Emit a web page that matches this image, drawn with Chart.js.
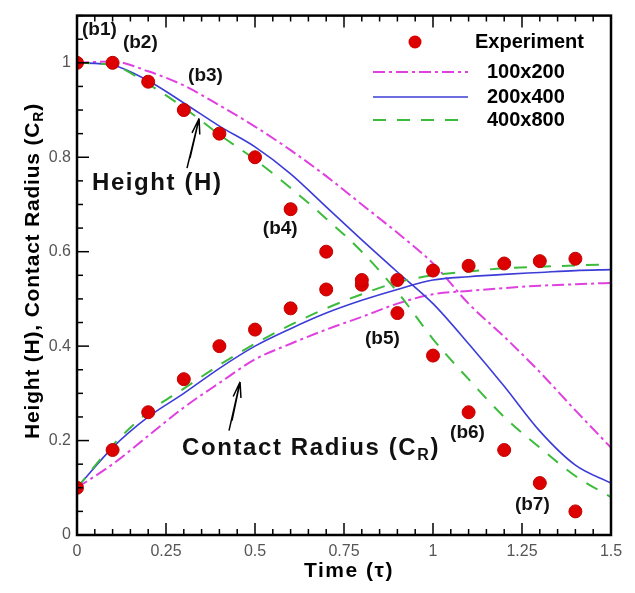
<!DOCTYPE html>
<html>
<head>
<meta charset="utf-8">
<script src="https://cdn.jsdelivr.net/npm/chart.js@4.4.1/dist/chart.umd.min.js"></script>
<style>
  html, body { margin: 0; padding: 0; background: #fff; }
  #wrap { width: 635px; height: 593px; }
</style>
</head>
<body>
<div id="wrap"><canvas id="chart" width="635" height="593"></canvas></div>
<script>
// time axis
const simTimes = [0, 0.1, 0.2, 0.3, 0.4, 0.5, 0.6, 0.7, 0.8, 0.9, 1.0, 1.1, 1.2, 1.3, 1.4, 1.5];
const expTimes = [0, 0.1, 0.2, 0.3, 0.4, 0.5, 0.6, 0.7, 0.8, 0.9, 1.0, 1.1, 1.2, 1.3, 1.4];

// experiment
const expHeight = [1.0, 1.0, 0.96, 0.90, 0.85, 0.80, 0.69, 0.60, 0.54, 0.47, 0.38, 0.26, 0.18, 0.11, 0.05];
const expRadius = [0.10, 0.18, 0.26, 0.33, 0.40, 0.435, 0.48, 0.52, 0.53, 0.54, 0.56, 0.57, 0.575, 0.58, 0.585];

// grid 100x200
const h100 = [1.0, 1.003, 0.982, 0.952, 0.91, 0.865, 0.815, 0.76, 0.70, 0.64, 0.575, 0.49, 0.42, 0.345, 0.264, 0.185];
const r100 = [0.10, 0.15, 0.21, 0.27, 0.322, 0.372, 0.405, 0.435, 0.462, 0.49, 0.51, 0.517, 0.523, 0.528, 0.531, 0.534];

// grid 200x400
const h200 = [1.0, 0.995, 0.962, 0.915, 0.866, 0.822, 0.765, 0.695, 0.625, 0.557, 0.49, 0.405, 0.315, 0.22, 0.148, 0.11];
const r200 = [0.10, 0.185, 0.25, 0.30, 0.353, 0.40, 0.437, 0.47, 0.497, 0.52, 0.54, 0.547, 0.552, 0.556, 0.56, 0.562];

// grid 400x800
const h400 = [1.0, 0.995, 0.955, 0.905, 0.848, 0.795, 0.735, 0.67, 0.60, 0.515, 0.415, 0.33, 0.25, 0.185, 0.125, 0.08];
const r400 = [0.10, 0.19, 0.26, 0.31, 0.36, 0.405, 0.445, 0.48, 0.51, 0.535, 0.55, 0.558, 0.565, 0.568, 0.571, 0.573];

const xTickLabels = ['0', '0.25', '0.5', '0.75', '1', '1.25', '1.5'];
const yTickLabels = ['0', '0.2', '0.4', '0.6', '0.8', '1'];

const RED = '#dc0000';
const MAGENTA = '#e040e0';
const BLUE = '#3c3cd8';
const GREEN = '#3cbc3c';

function pairs(xs, ys) {
  return ys.map((y, i) => ({ x: xs[i], y: y }));
}

function lineSet(label, data, color, dash, width) {
  return {
    label: label,
    data: data,
    borderColor: color,
    backgroundColor: color,
    borderWidth: width,
    borderDash: dash,
    pointRadius: 0,
    fill: false,
    cubicInterpolationMode: 'monotone'
  };
}

function pointSet(label, data) {
  return {
    label: label,
    data: data,
    showLine: false,
    pointRadius: 6.5,
    pointBackgroundColor: RED,
    pointBorderColor: '#c00000',
    pointBorderWidth: 1
  };
}

function isMajor(v, step) {
  return Math.abs(v / step - Math.round(v / step)) < 1e-6;
}

// text labels placed in data units
const notes = [
  { text: '(b1)', x: 0.014, y: 1.069, size: 19 },
  { text: '(b2)', x: 0.129, y: 1.042, size: 19 },
  { text: '(b3)', x: 0.312, y: 0.973, size: 19 },
  { text: '(b4)', x: 0.522, y: 0.648, size: 19 },
  { text: '(b5)', x: 0.809, y: 0.415, size: 19 },
  { text: '(b6)', x: 1.048, y: 0.217, size: 19 },
  { text: '(b7)', x: 1.230, y: 0.063, size: 19 }
];

const arrows = [
  { from: [0.309, 0.777], to: [0.343, 0.882] },
  { from: [0.427, 0.221], to: [0.458, 0.324] }
];

const legendItems = [
  { label: 'Experiment', kind: 'point' },
  { label: '100x200', color: MAGENTA, dash: [12, 4, 3, 4], width: 2 },
  { label: '200x400', color: BLUE, dash: [], width: 1.6 },
  { label: '400x800', color: GREEN, dash: [13, 11], width: 2 }
];

function drawRich(ctx, parts, x, y, size, spacing) {
  // parts: [text, isSub]
  let cx = x;
  parts.forEach(p => {
    const s = p[1] ? Math.round(size * 0.68) : size;
    ctx.font = 'bold ' + s + 'px "Liberation Sans", Arial, sans-serif';
    ctx.letterSpacing = spacing + 'px';
    ctx.fillText(p[0], cx, p[1] ? y + size * 0.3 : y);
    cx += ctx.measureText(p[0]).width;
  });
  return cx - x;
}

function richWidth(ctx, parts, size, spacing) {
  let w = 0;
  parts.forEach(p => {
    const s = p[1] ? Math.round(size * 0.68) : size;
    ctx.font = 'bold ' + s + 'px "Liberation Sans", Arial, sans-serif';
    ctx.letterSpacing = spacing + 'px';
    w += ctx.measureText(p[0]).width;
  });
  return w;
}

const decorations = {
  id: 'decorations',
  afterDraw(chart) {
    const ctx = chart.ctx;
    const area = chart.chartArea;
    const xs = chart.scales.x;
    const ys = chart.scales.y;
    ctx.save();

    // inward ticks
    ctx.strokeStyle = '#000';
    ctx.lineWidth = 1.5;
    xs.ticks.forEach(t => {
      const px = xs.getPixelForValue(t.value);
      const len = isMajor(t.value, 0.25) ? 12 : 6;
      ctx.beginPath();
      ctx.moveTo(px, area.bottom);
      ctx.lineTo(px, area.bottom - len);
      ctx.moveTo(px, area.top);
      ctx.lineTo(px, area.top + len);
      ctx.stroke();
    });
    ys.ticks.forEach(t => {
      const py = ys.getPixelForValue(t.value);
      const len = isMajor(t.value, 0.2) ? 12 : 6;
      ctx.beginPath();
      ctx.moveTo(area.left, py);
      ctx.lineTo(area.left + len, py);
      ctx.stroke();
    });

    // frame
    ctx.lineWidth = 2.5;
    ctx.strokeRect(area.left, area.top, area.right - area.left, area.bottom - area.top);

    // legend
    const lx0 = area.left + 296;
    const lx1 = area.left + 391;
    const rows = [42, 72, 97, 120];
    ctx.textBaseline = 'middle';
    ctx.fillStyle = '#000';
    legendItems.forEach((it, i) => {
      const y = rows[i];
      ctx.font = 'bold 20px "Liberation Sans", Arial, sans-serif';
      ctx.letterSpacing = '0px';
      if (it.kind === 'point') {
        ctx.beginPath();
        ctx.arc(area.left + 338, y, 6.5, 0, Math.PI * 2);
        ctx.fillStyle = RED;
        ctx.fill();
        ctx.fillStyle = '#000';
        ctx.fillText(it.label, area.left + 398, y);
      } else {
        ctx.beginPath();
        ctx.setLineDash(it.dash);
        ctx.strokeStyle = it.color;
        ctx.lineWidth = it.width;
        ctx.moveTo(lx0, y);
        ctx.lineTo(lx1, y);
        ctx.stroke();
        ctx.setLineDash([]);
        ctx.fillText(it.label, area.left + 410, y);
      }
    });

    // (bN) notes
    ctx.fillStyle = '#111';
    notes.forEach(n => {
      ctx.font = 'bold ' + n.size + 'px "Liberation Sans", Arial, sans-serif';
      ctx.letterSpacing = '0px';
      ctx.fillText(n.text, xs.getPixelForValue(n.x), ys.getPixelForValue(n.y));
    });

    // curve labels
    drawRich(ctx, [['Height (H)', false]], xs.getPixelForValue(0.042), ys.getPixelForValue(0.745), 24, 1.6);
    drawRich(ctx, [['Contact Radius (C', false], ['R', true], [')', false]],
      xs.getPixelForValue(0.295), ys.getPixelForValue(0.183), 24, 1.6);

    // arrows (drawn as a narrow double stroke like the original)
    ctx.strokeStyle = '#000';
    ctx.lineWidth = 1.5;
    arrows.forEach(a => {
      const x0 = xs.getPixelForValue(a.from[0]), y0 = ys.getPixelForValue(a.from[1]);
      const x1 = xs.getPixelForValue(a.to[0]), y1 = ys.getPixelForValue(a.to[1]);
      const ang = Math.atan2(y1 - y0, x1 - x0);
      ctx.beginPath();
      ctx.moveTo(x0, y0);
      ctx.lineTo(x1, y1);
      ctx.moveTo(x0 + 3, y0 - 10);
      ctx.lineTo(x1, y1);
      ctx.moveTo(x1, y1);
      ctx.lineTo(x1 - 16 * Math.cos(ang - 0.28), y1 - 16 * Math.sin(ang - 0.28));
      ctx.moveTo(x1, y1);
      ctx.lineTo(x1 - 16 * Math.cos(ang + 0.22), y1 - 16 * Math.sin(ang + 0.22));
      ctx.stroke();
    });

    // axis titles
    ctx.fillStyle = '#000';
    ctx.textBaseline = 'middle';
    ctx.font = 'bold 21px "Liberation Sans", Arial, sans-serif';
    ctx.letterSpacing = '1.5px';
    ctx.textAlign = 'center';
    ctx.fillText('Time (\u03c4)', (area.left + area.right) / 2 + 5, 571);
    ctx.textAlign = 'left';

    const yParts = [['Height (H), Contact Radius (C', false], ['R', true], [')', false]];
    const yw = richWidth(ctx, yParts, 21, 0.8);
    ctx.translate(33, 271);
    ctx.rotate(-Math.PI / 2);
    drawRich(ctx, yParts, -yw / 2, 0, 21, 0.8);
    ctx.restore();
  }
};

const ctx = document.getElementById('chart').getContext('2d');
const chart = new Chart(ctx, {
  type: 'line',
  data: {
    datasets: [
      pointSet('Experiment', pairs(expTimes, expHeight)),
      pointSet('Experiment CR', pairs(expTimes, expRadius)),
      lineSet('400x800', pairs(simTimes, h400), GREEN, [13, 11], 2),
      lineSet('400x800 CR', pairs(simTimes, r400), GREEN, [13, 11], 2),
      lineSet('200x400', pairs(simTimes, h200), BLUE, [], 1.6),
      lineSet('200x400 CR', pairs(simTimes, r200), BLUE, [], 1.6),
      lineSet('100x200', pairs(simTimes, h100), MAGENTA, [12, 4, 3, 4], 2),
      lineSet('100x200 CR', pairs(simTimes, r100), MAGENTA, [12, 4, 3, 4], 2)
    ]
  },
  options: {
    responsive: false,
    animation: false,
    layout: { padding: { top: 13, right: 24, left: 0, bottom: 0 } },
    plugins: {
      legend: { display: false },
      tooltip: { enabled: false }
    },
    scales: {
      x: {
        type: 'linear',
        min: 0,
        max: 1.5,
        grid: { display: false, drawTicks: false },
        border: { display: false },
        afterFit: s => { s.height = 58; },
        ticks: {
          stepSize: 0.05,
          autoSkip: false,
          maxRotation: 0,
          padding: 7,
          color: '#555',
          font: { family: '"Liberation Sans", Arial, sans-serif', size: 16 },
          callback: v => isMajor(v, 0.25) ? xTickLabels[Math.round(v / 0.25)] : ''
        }
      },
      y: {
        type: 'linear',
        min: 0,
        max: 1.1,
        grid: { display: false, drawTicks: false },
        border: { display: false },
        afterFit: s => { s.width = 77; },
        ticks: {
          stepSize: 0.05,
          autoSkip: false,
          padding: 6,
          color: '#555',
          font: { family: '"Liberation Sans", Arial, sans-serif', size: 16 },
          callback: v => isMajor(v, 0.2) ? yTickLabels[Math.round(v / 0.2)] : ''
        }
      }
    }
  },
  plugins: [decorations]
});
</script>
</body>
</html>
